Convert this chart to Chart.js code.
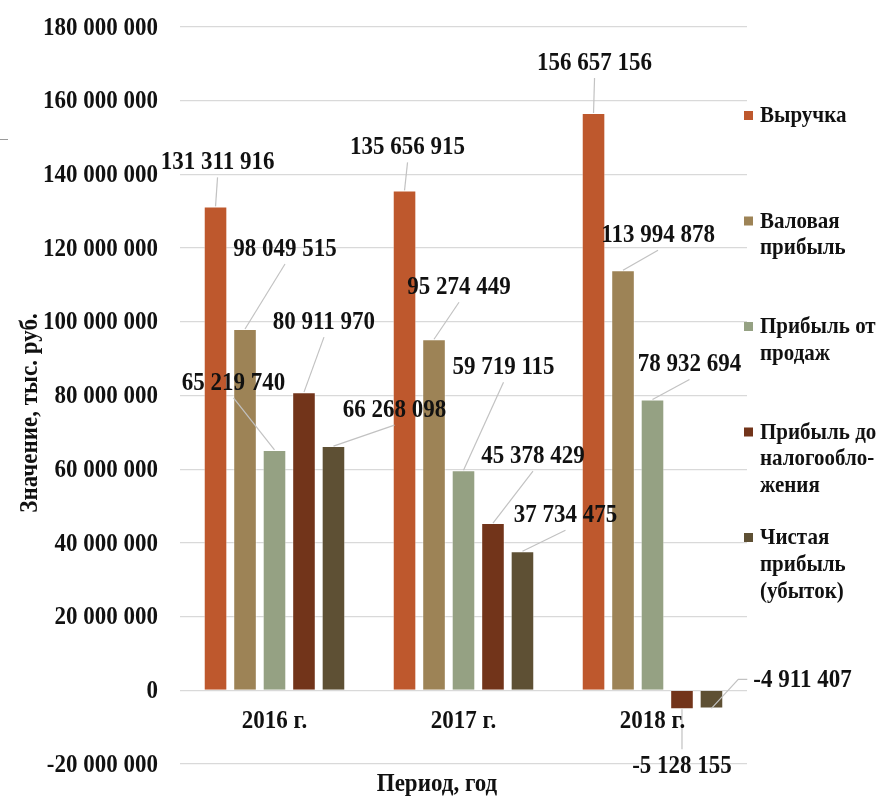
<!DOCTYPE html>
<html>
<head>
<meta charset="utf-8">
<script src="https://cdn.jsdelivr.net/npm/chart.js@4"></script>
<style>
  html, body { margin: 0; padding: 0; background: #ffffff; }
  canvas { display: block; }
</style>
</head>
<body>
<canvas id="chart" width="881" height="796"></canvas>
<script>
// Финансовые результаты по годам
const periods = ['2016 г.', '2017 г.', '2018 г.'];
const seriesNames = [
  ['Выручка'],
  ['Валовая', 'прибыль'],
  ['Прибыль от', 'продаж'],
  ['Прибыль до', 'налогообло-', 'жения'],
  ['Чистая', 'прибыль', '(убыток)']
];
const revenue      = [131311916, 135656915, 156657156];
const grossProfit  = [98049515, 95274449, 113994878];
const salesProfit  = [65219740, 59719115, 78932694];
const pretaxProfit = [80911970, 45378429, -5128155];
const netProfit    = [66268098, 37734475, -4911407];
const yMin = -20000000;
const yMax = 180000000;
const yStep = 20000000;
const yTitle = 'Значение, тыс. руб.';
const xTitle = 'Период, год';

const seriesColors = ['#be582d', '#9d8356', '#95a183', '#72341a', '#5e5034'];

// Смещение подписи от конца столбца: [dx, dy, сторона выноски]
const labelPlacement = [
  [[2, -45, 'b'], [3, -44, 'b'], [1, -51, 'b']],
  [[40, -81, 'b'], [25, -53, 'b'], [35, -36, 'b']],
  [[-41, -68, 'b'], [40, -104, 'b'], [37, -36, 'b']],
  [[20, -71, 'b'], [40, -68, 'b'], [0, 56, 't']],
  [[61, -37, 'b'], [43, -37, 'b'], [91, -29, 'l']]
];

const SERIF = '"Liberation Serif", "Times New Roman", serif';
const INK = '#111111';
const STRETCH = 1.12; // вытянутый по вертикали шрифт

function fmt(n) {
  const s = String(Math.abs(Math.round(n))).replace(/\B(?=(\d{3})+(?!\d))/g, ' ');
  return (n < 0 ? '-' : '') + s;
}

function tallText(ctx, text, x, y) {
  ctx.save();
  ctx.translate(x, y);
  ctx.scale(1, STRETCH);
  ctx.fillText(text, 0, 0);
  ctx.restore();
}

const seriesValues = [revenue, grossProfit, salesProfit, pretaxProfit, netProfit];

const valueLabels = {
  id: 'valueLabels',
  afterDatasetsDraw(chart) {
    const ctx = chart.ctx;
    ctx.save();
    ctx.font = 'bold 23px ' + SERIF;
    ctx.textAlign = 'center';
    ctx.textBaseline = 'middle';
    chart.data.datasets.forEach((ds, i) => {
      const meta = chart.getDatasetMeta(i);
      meta.data.forEach((bar, j) => {
        const [dx, dy, side] = labelPlacement[i][j];
        const text = fmt(ds.data[j]);
        const lx = bar.x + dx;
        const ly = bar.y + dy;
        const w = ctx.measureText(text).width;
        ctx.strokeStyle = '#c2c2c2';
        ctx.lineWidth = 1.2;
        ctx.beginPath();
        if (side === 'b') {
          ctx.moveTo(lx, ly + 16);
          ctx.lineTo(bar.x, bar.y);
        } else if (side === 't') {
          ctx.moveTo(lx, ly - 16);
          ctx.lineTo(bar.x, bar.y);
        } else {
          const sx = lx - w / 2 - 6;
          ctx.moveTo(sx, ly);
          ctx.lineTo(sx - 9, ly);
          ctx.lineTo(bar.x, bar.y);
        }
        ctx.stroke();
        ctx.fillStyle = INK;
        tallText(ctx, text, lx, ly + 1);
      });
    });
    ctx.restore();
  }
};

const decorations = {
  id: 'decorations',
  afterDraw(chart) {
    const ctx = chart.ctx;
    const xs = chart.scales.x;
    const ys = chart.scales.y;
    const area = chart.chartArea;
    ctx.save();
    ctx.fillStyle = INK;
    ctx.textBaseline = 'middle';

    // подписи значений оси Y
    ctx.font = 'bold 23px ' + SERIF;
    ctx.textAlign = 'right';
    ys.ticks.forEach(t => {
      tallText(ctx, fmt(t.value), area.left - 22, ys.getPixelForValue(t.value) + 1);
    });

    // подписи категорий у нулевой линии
    ctx.textAlign = 'center';
    const zeroY = ys.getPixelForValue(0);
    periods.forEach((p, i) => {
      tallText(ctx, p, xs.getPixelForValue(i), zeroY + 31);
    });

    // заголовки осей
    ctx.font = 'bold 23px ' + SERIF;
    tallText(ctx, xTitle, 437, 784);
    ctx.save();
    ctx.translate(30, 413);
    ctx.rotate(-Math.PI / 2);
    tallText(ctx, yTitle, 0, 0);
    ctx.restore();

    // легенда
    ctx.font = 'bold 21px ' + SERIF;
    ctx.textAlign = 'left';
    const legendX = area.right - 3;
    chart.data.datasets.forEach((ds, i) => {
      const top = 116 + i * 105.5;
      ctx.fillStyle = ds.backgroundColor;
      ctx.fillRect(legendX, top - 5, 9, 9);
      ctx.fillStyle = INK;
      seriesNames[i].forEach((line, k) => {
        tallText(ctx, line, legendX + 16, top + k * 26.8);
      });
    });

    // короткий штрих у левого края
    ctx.strokeStyle = '#9a9a9a';
    ctx.lineWidth = 1;
    ctx.beginPath();
    ctx.moveTo(0, 139.5);
    ctx.lineTo(8, 139.5);
    ctx.stroke();

    ctx.restore();
  }
};

new Chart(document.getElementById('chart'), {
  type: 'bar',
  data: {
    labels: periods,
    datasets: seriesValues.map((vals, i) => ({
      label: seriesNames[i].join(' '),
      data: vals,
      backgroundColor: seriesColors[i],
      borderColor: 'rgba(255,255,255,0.45)',
      borderWidth: 1,
      categoryPercentage: 0.78,
      barPercentage: 0.8
    }))
  },
  options: {
    responsive: false,
    animation: false,
    devicePixelRatio: 1,
    layout: { padding: { left: 0, right: 134, top: 27, bottom: 32 } },
    plugins: {
      legend: { display: false },
      tooltip: { enabled: false },
      title: { display: false }
    },
    scales: {
      x: {
        display: false,
        offset: true,
        grid: { display: false }
      },
      y: {
        min: yMin,
        max: yMax,
        ticks: { stepSize: yStep, display: false },
        grid: { color: '#d9d9d9', lineWidth: 1.3, drawTicks: false },
        border: { display: false },
        afterFit(scale) { scale.width = 180; }
      }
    }
  },
  plugins: [valueLabels, decorations]
});
</script>
</body>
</html>
